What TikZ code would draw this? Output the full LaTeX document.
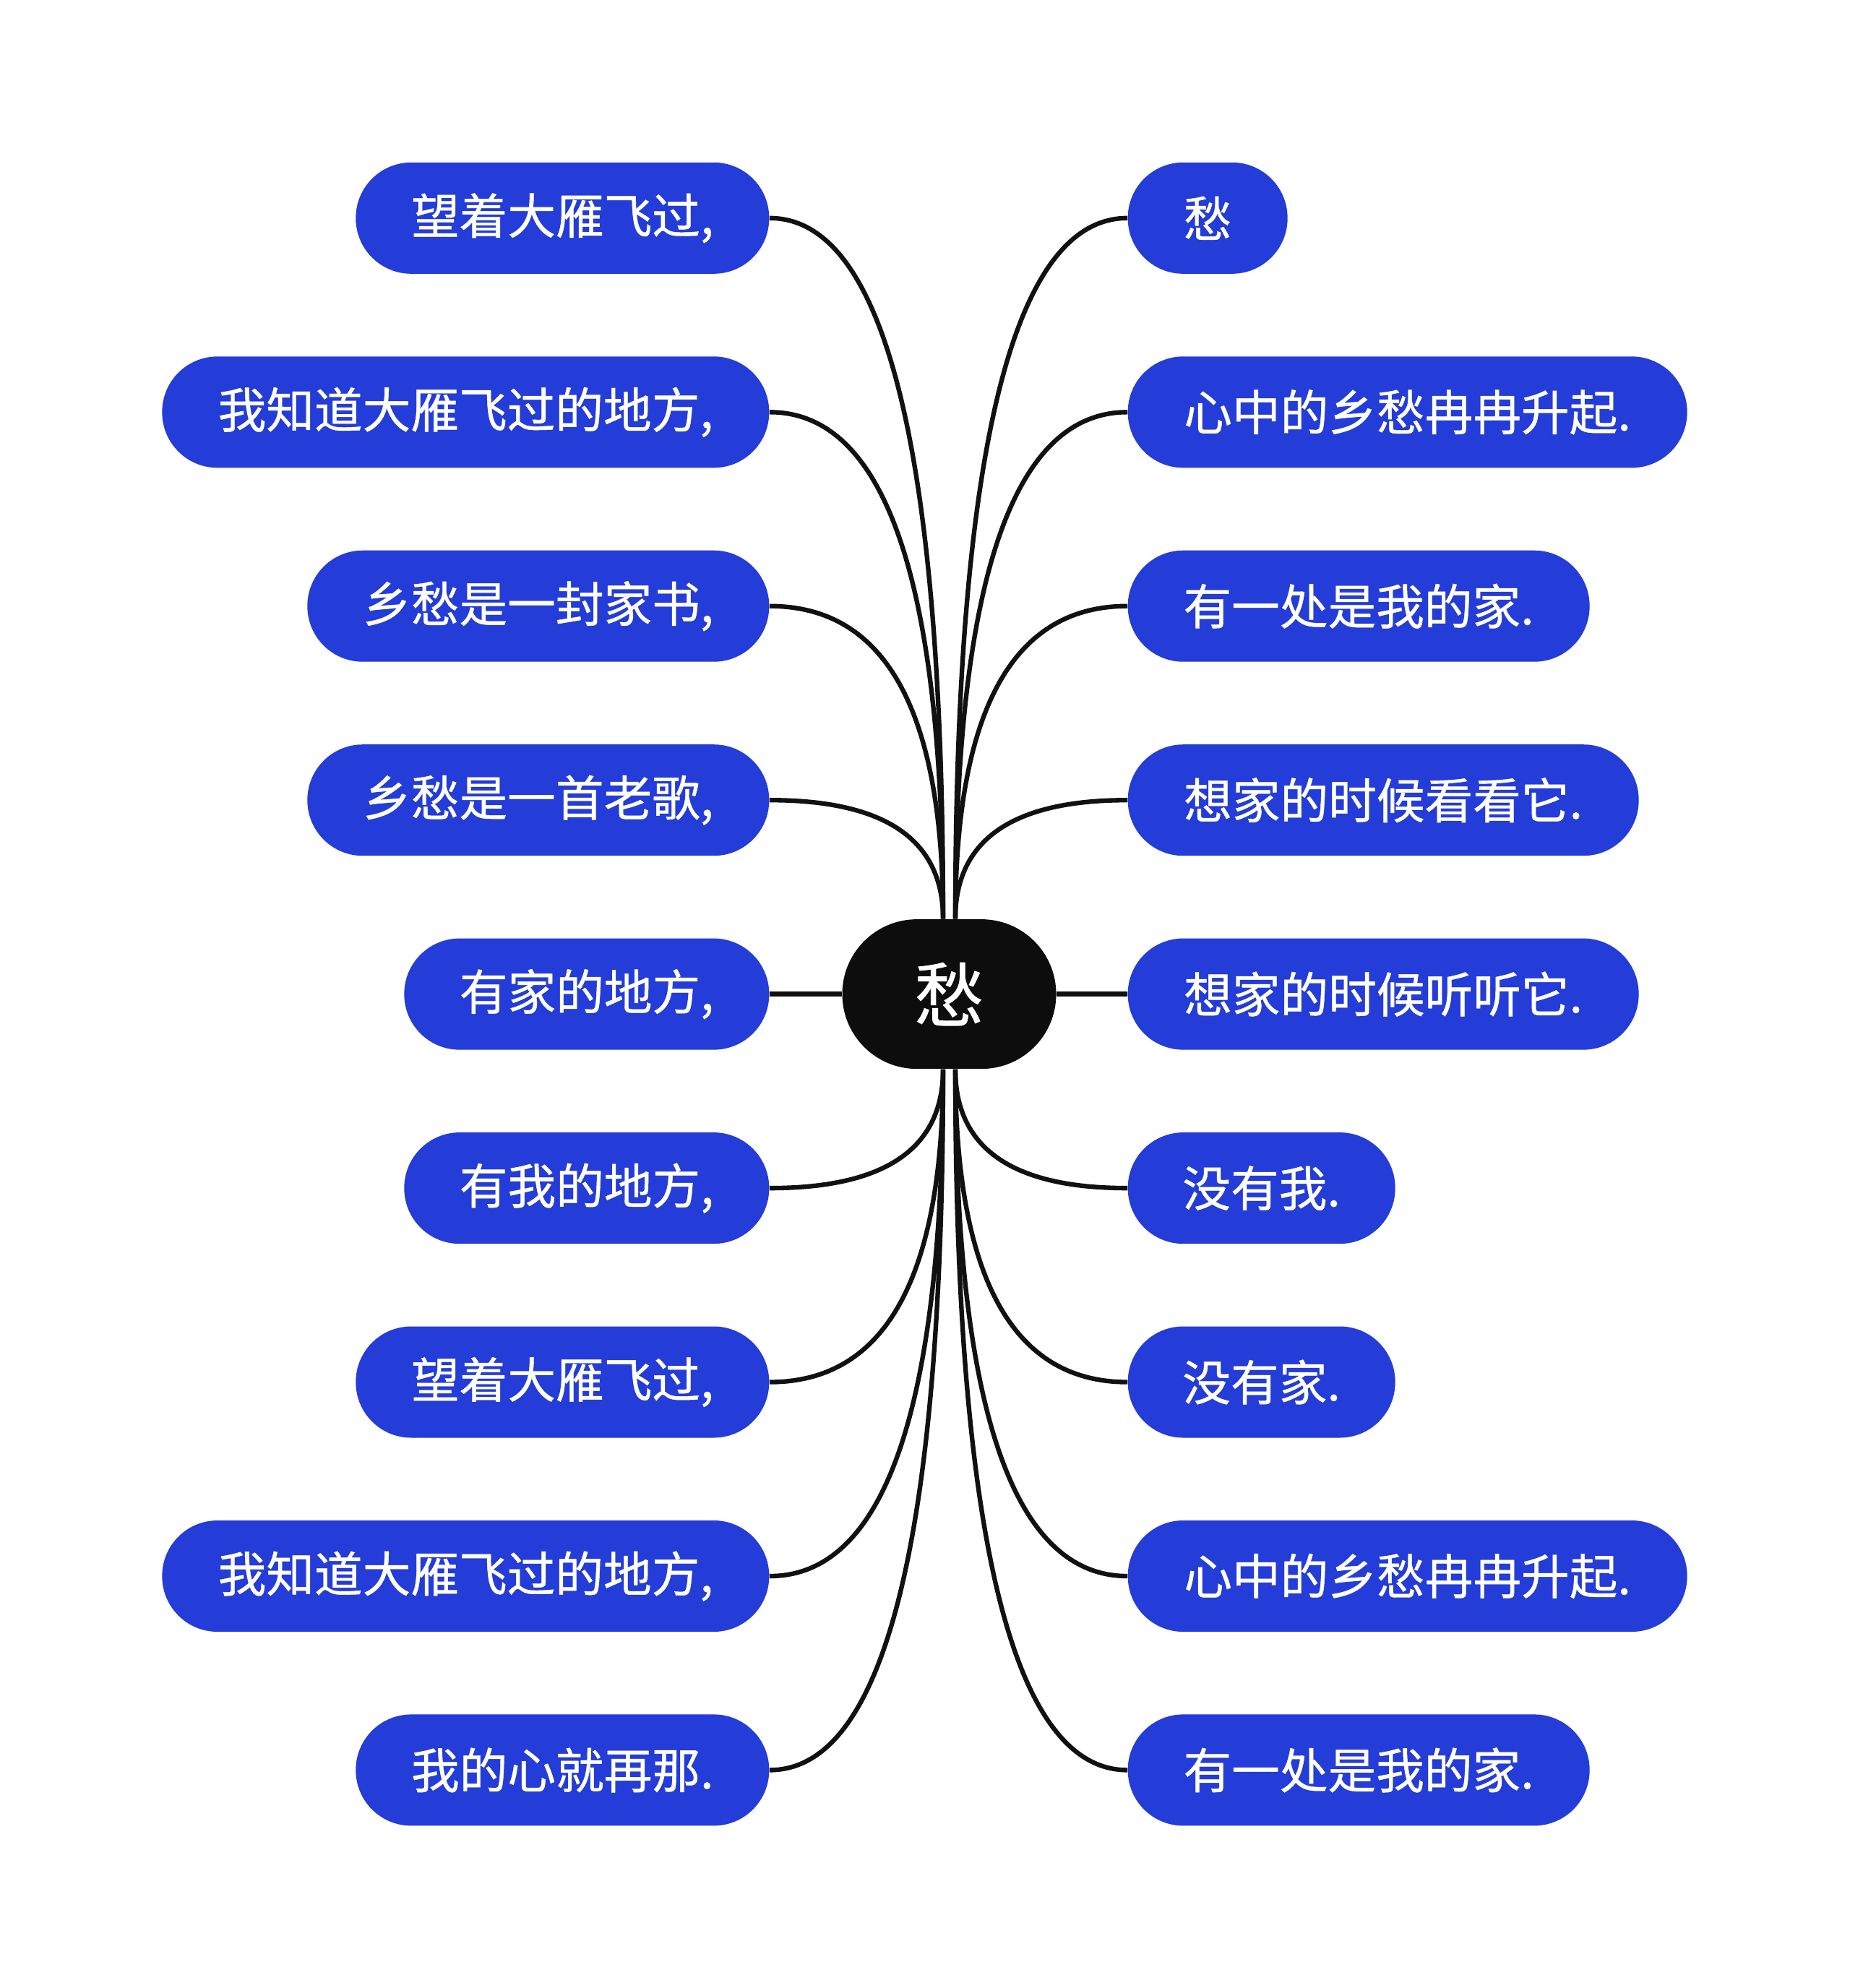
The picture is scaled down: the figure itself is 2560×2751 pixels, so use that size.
\documentclass[tikz,border=0pt]{standalone}
\usepackage{fontspec}
\newfontfamily\cjk[FakeBold=0.7]{Noto Sans CJK SC}
\usetikzlibrary{calc}
\definecolor{nodeblue}{RGB}{36,60,216}
\definecolor{darkfill}{RGB}{13,13,13}
\definecolor{edgecol}{RGB}{17,17,17}
\tikzset{
  leaf/.style={rectangle, rounded corners=23pt, fill=nodeblue, text=white,
    font=\cjk\fontsize{20pt}{24pt}\selectfont, inner sep=0pt,
    minimum height=46.2pt, minimum width=#1},
  leftleaf/.style={leaf=#1, anchor=east},
  rightleaf/.style={leaf=#1, anchor=west},
  rootnode/.style={rectangle, rounded corners=31pt, fill=darkfill, text=white,
    font=\cjk\fontsize{29pt}{34pt}\selectfont, inner sep=0pt,
    minimum width=88.8pt, minimum height=62.1pt},
  edge/.style={draw=edgecol, line width=1.9pt},
  branch/.style={to path={.. controls ($(\tikztostart)!2/3!(\tikztotarget |- \tikztostart)$)
      and ($(\tikztotarget)!2/3!(\tikztotarget |- \tikztostart)$) .. (\tikztotarget)}}
}
\begin{document}
\begin{tikzpicture}[x=0.3pt, y=-0.3pt]
\useasboundingbox[fill=white] (0,0) rectangle (2560,2751);
% center
\node[rootnode] (C) at (1313.5,1375.6) {愁};
\coordinate (tl) at ($(C.north)+(-8.5,0)$);
\coordinate (tr) at ($(C.north)+(8.5,0)$);
\coordinate (bl) at ($(C.south)+(-8.5,0)$);
\coordinate (br) at ($(C.south)+(8.5,0)$);
% left
\node[leftleaf=171.6pt] (L1) at (1065,301.8) {望着大雁飞过,};
\node[leftleaf=252pt]   (L2) at (1065,570.3) {我知道大雁飞过的地方,};
\node[leftleaf=191.7pt] (L3) at (1065,838.7) {乡愁是一封家书,};
\node[leftleaf=191.7pt] (L4) at (1065,1107.2) {乡愁是一首老歌,};
\node[leftleaf=151.5pt] (L5) at (1065,1375.6) {有家的地方,};
\node[leftleaf=151.5pt] (L6) at (1065,1644.1) {有我的地方,};
\node[leftleaf=171.6pt] (L7) at (1065,1912.5) {望着大雁飞过,};
\node[leftleaf=252pt]   (L8) at (1065,2181.0) {我知道大雁飞过的地方,};
\node[leftleaf=171.6pt] (L9) at (1065,2449.4) {我的心就再那.};
% right
\node[rightleaf=66.3pt]  (R1) at (1560,301.8) {愁};
\node[rightleaf=232.2pt] (R2) at (1560,570.3) {心中的乡愁冉冉升起.};
\node[rightleaf=191.7pt] (R3) at (1560,838.7) {有一处是我的家.};
\node[rightleaf=212.1pt] (R4) at (1560,1107.2) {想家的时候看看它.};
\node[rightleaf=212.1pt] (R5) at (1560,1375.6) {想家的时候听听它.};
\node[rightleaf=111pt]   (R6) at (1560,1644.1) {没有我.};
\node[rightleaf=111pt]   (R7) at (1560,1912.5) {没有家.};
\node[rightleaf=232.2pt] (R8) at (1560,2181.0) {心中的乡愁冉冉升起.};
\node[rightleaf=191.7pt] (R9) at (1560,2449.4) {有一处是我的家.};
% connectors
\draw[edge] (L1.east) to[branch] (tl);
\draw[edge] (L2.east) to[branch] (tl);
\draw[edge] (L3.east) to[branch] (tl);
\draw[edge] (L4.east) to[branch] (tl);
\draw[edge] (L5.east) -- (C.west);
\draw[edge] (L6.east) to[branch] (bl);
\draw[edge] (L7.east) to[branch] (bl);
\draw[edge] (L8.east) to[branch] (bl);
\draw[edge] (L9.east) to[branch] (bl);
\draw[edge] (R1.west) to[branch] (tr);
\draw[edge] (R2.west) to[branch] (tr);
\draw[edge] (R3.west) to[branch] (tr);
\draw[edge] (R4.west) to[branch] (tr);
\draw[edge] (C.east) -- (R5.west);
\draw[edge] (R6.west) to[branch] (br);
\draw[edge] (R7.west) to[branch] (br);
\draw[edge] (R8.west) to[branch] (br);
\draw[edge] (R9.west) to[branch] (br);
\end{tikzpicture}
\end{document}
